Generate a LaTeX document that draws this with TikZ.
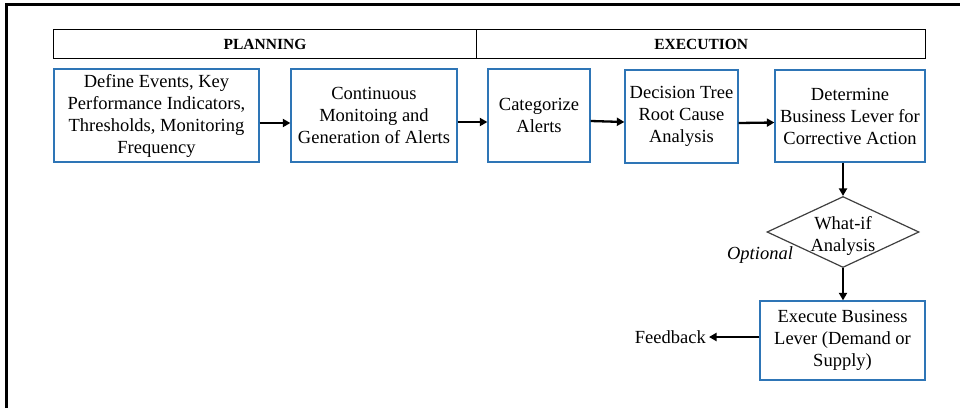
\documentclass[tikz,border=0pt]{standalone}
\usepackage{fontspec}
\setmainfont{Liberation Serif}
\usetikzlibrary{shapes.geometric,arrows.meta}
\definecolor{boxblue}{RGB}{46,117,182}
\definecolor{dgray}{RGB}{64,64,64}
\begin{document}
\begin{tikzpicture}[x=1pt,y=-1pt,
  box/.style={draw=boxblue,line width=1.3pt,fill=white,inner sep=0pt,align=center,font=\fontsize{18.5}{22}\selectfont},
  hdr/.style={draw=black,line width=1.1pt,inner sep=0pt,font=\fontsize{15.5}{18}\selectfont\bfseries},
  arr/.style={line width=2.3pt,-{Triangle[length=7.5pt,width=8pt]}},
  txt/.style={inner sep=0pt,align=center,font=\fontsize{18.5}{22}\selectfont}]
\useasboundingbox (0,0) rectangle (960,408);
\fill[white] (0,0) rectangle (960,408);
\draw[line width=3pt] (6.5,408) -- (6.5,4.7) -- (960,4.7);
% header
\node[hdr,minimum width=423.4,minimum height=29.4] (hp) at (265,44) {PLANNING};
\node[hdr,minimum width=449,minimum height=29.4] (he) at (701.2,44) {EXECUTION};
% boxes
\node[box,minimum width=205,minimum height=93] (b1) at (156.5,115.5) {Define Events, Key\\Performance Indicators,\\Thresholds, Monitoring\\Frequency};
\node[box,minimum width=166,minimum height=93] (b2) at (374,115.5) {Continuous\\Monitoing and\\Generation of Alerts};
\node[box,minimum width=102,minimum height=93] (b3) at (539,115.5) {Categorize\\Alerts};
\node[box,minimum width=113,minimum height=93] (b4) at (681.5,116.5) {Decision Tree\\Root Cause\\Analysis};
\node[box,minimum width=150,minimum height=92] (b5) at (850,116) {Determine\\Business Lever for\\Corrective Action};
\node[draw=dgray,line width=1.2pt,diamond,aspect=2.14,minimum width=152,minimum height=71,inner sep=0pt] (d) at (843,232) {};
\node[txt] (dt) at (843,236) {What-if\\Analysis};
\node[txt,font=\fontsize{18.5}{22}\selectfont\itshape] (opt) at (760,255) {Optional};
\node[box,minimum width=165,minimum height=79] (b6) at (842.5,340.5) {Execute Business\\Lever (Demand or\\Supply)};
\node[txt,inner sep=3pt,anchor=east] (fb) at (709,337) {Feedback};
% arrows
\draw[arr] ([yshift=-7.5pt]b1.east) -- ([yshift=-7.5pt]b2.west);
\draw[arr] ([yshift=-6.5pt]b2.east) -- ([yshift=-6.5pt]b3.west);
\draw[arr] ([yshift=-5.5pt]b3.east) -- ([yshift=-5.5pt]b4.west);
\draw[arr] ([yshift=-6.5pt]b4.east) -- ([yshift=-6.5pt]b5.west);
\draw[arr] (b5.south -| d.north) -- (d.north);
\draw[arr] (d.south) -- (b6.north -| d.south);
\draw[arr] (b6.west |- fb) -- (fb.east);
\end{tikzpicture}
\end{document}
